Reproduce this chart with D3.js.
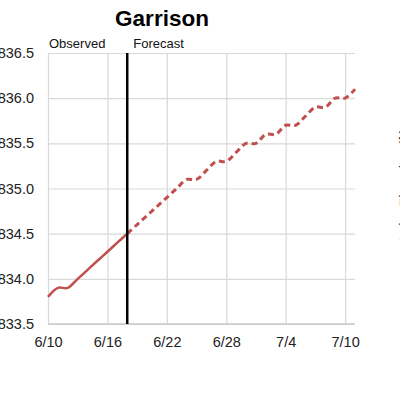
<!DOCTYPE html>
<html>
<head>
<meta charset="utf-8">
<script src="https://cdn.jsdelivr.net/npm/d3@7"></script>
<style>
html,body{margin:0;padding:0;background:#fff;}
svg{display:block;font-family:"Liberation Sans",Arial,sans-serif;}
</style>
</head>
<body>
<svg id="chart" width="400" height="400"></svg>
<script>
const title = "Garrison";
const observedDates = ["2024-06-10","2024-06-11","2024-06-12","2024-06-13","2024-06-14","2024-06-15","2024-06-16","2024-06-17","2024-06-18"];
const observedValues = [1833.8,1833.9,1833.9,1834.0,1834.1,1834.2,1834.3,1834.4,1834.5];
const forecastDates = ["2024-06-18","2024-06-19","2024-06-20","2024-06-21","2024-06-22","2024-06-23","2024-06-24","2024-06-25","2024-06-26","2024-06-27","2024-06-28","2024-06-29","2024-06-30","2024-07-01","2024-07-02","2024-07-03","2024-07-04","2024-07-05","2024-07-06","2024-07-07","2024-07-08","2024-07-09","2024-07-10","2024-07-11"];
const forecastValues = [1834.5,1834.6,1834.7,1834.8,1834.9,1835.0,1835.1,1835.1,1835.2,1835.3,1835.3,1835.4,1835.5,1835.5,1835.6,1835.6,1835.7,1835.7,1835.8,1835.9,1835.9,1836.0,1836.0,1836.1];
const xTickDates = ["2024-06-10","2024-06-16","2024-06-22","2024-06-28","2024-07-04","2024-07-10"];
const xTickLabels = ["6/10","6/16","6/22","6/28","7/4","7/10"];
const yTicks = [1833.5,1834.0,1834.5,1835.0,1835.5,1836.0,1836.5];
const forecastStart = "2024-06-18";
const xDomain = ["2024-06-10","2024-07-11"];
const yDomain = [1833.5,1836.5];

const parse = d3.utcParse("%Y-%m-%d");
const svg = d3.select("#chart");
const m = {left:48, right:45, top:53, bottom:76};
const W = 400, H = 400;
const x = d3.scaleUtc().domain(xDomain.map(parse)).range([m.left, W - m.right]);
const y = d3.scaleLinear().domain(yDomain).range([H - m.bottom, m.top]);

const red = "#c0504d";
const grid = "#d9d9d9";

// horizontal gridlines
svg.append("g").call(d3.axisLeft(y).tickValues(yTicks).tickSize(-(W - m.right - m.left)).tickFormat(d3.format(".1f")).tickPadding(14))
  .attr("transform", `translate(${m.left},0)`)
  .call(g => g.select(".domain").remove())
  .call(g => g.selectAll("line").attr("stroke", grid).attr("stroke-width", 1.2))
  .call(g => g.selectAll("text").attr("font-size", 14.5).attr("fill", "#222").attr("font-family", "Liberation Sans, Arial, sans-serif"));

// vertical gridlines
svg.append("g").call(d3.axisBottom(x).tickValues(xTickDates.map(parse)).tickSize(-(H - m.bottom - m.top)).tickFormat((d,i) => xTickLabels[i]).tickPadding(13))
  .attr("transform", `translate(0,${H - m.bottom})`)
  .call(g => g.select(".domain").remove())
  .call(g => g.selectAll("line").attr("stroke", grid).attr("stroke-width", 1.2))
  .call(g => g.selectAll("text").attr("font-size", 14.5).attr("fill", "#222").attr("font-family", "Liberation Sans, Arial, sans-serif"));

// bottom axis line
svg.append("line").attr("x1", m.left).attr("x2", W - m.right).attr("y1", y(yDomain[0])).attr("y2", y(yDomain[0]))
  .attr("stroke", "#c8c8c8").attr("stroke-width", 1.5);

const line = d3.line().x(d => x(d[0])).y(d => y(d[1])).curve(d3.curveCatmullRom.alpha(0.5));

svg.append("path")
  .datum(observedDates.map((d,i) => [parse(d), observedValues[i]]))
  .attr("d", line).attr("fill", "none").attr("stroke", red).attr("stroke-width", 2.5);

svg.append("path")
  .datum(forecastDates.map((d,i) => [parse(d), forecastValues[i]]))
  .attr("d", line).attr("fill", "none").attr("stroke", red).attr("stroke-width", 3)
  .attr("stroke-dasharray", "6,4");

// forecast divider
const fx = x(parse(forecastStart));
svg.append("line").attr("x1", fx).attr("x2", fx).attr("y1", y(yDomain[1])).attr("y2", y(yDomain[0]))
  .attr("stroke", "#000").attr("stroke-width", 2.5);

svg.append("text").attr("x", m.left + 1).attr("y", 48).attr("font-size", 13).attr("fill", "#111").text("Observed");
svg.append("text").attr("x", fx + 6).attr("y", 48).attr("font-size", 13).attr("fill", "#111").text("Forecast");

svg.append("text").attr("x", 162).attr("y", 26).attr("text-anchor", "middle")
  .attr("font-size", 22.5).attr("font-weight", "bold").attr("fill", "#000").text(title);

// partially visible right-side axis title
svg.append("text").attr("transform", "translate(410,185) rotate(-90)").attr("text-anchor", "middle")
  .attr("font-size", 14).attr("fill", "#222").text("Lake Elevation (ft)");
</script>
</body>
</html>
